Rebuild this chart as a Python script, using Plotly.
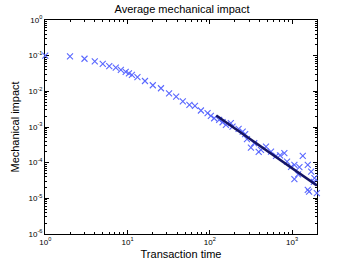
import plotly.graph_objects as go

# Measured average mechanical impact
transaction_time = [1, 2, 3, 4, 5, 6, 7.2, 8.3, 9.5, 10.4, 11.3, 13.2, 16.3, 20.3, 25.5, 32,
                    39, 47, 56.5, 66, 78, 94, 103, 113, 130, 143, 157, 180, 189, 224, 251, 269,
                    283, 316, 347, 393, 419, 482, 555, 639, 714, 806, 869, 972, 1067, 1067,
                    1183, 1228, 1349, 1552, 1552, 1611, 1706, 1840, 1871, 2000]
mech_impact = [0.1, 0.096, 0.082, 0.069, 0.059, 0.051, 0.046, 0.040, 0.035, 0.032, 0.029,
               0.025, 0.0195, 0.0148, 0.0122, 0.0088, 0.0071, 0.0052, 0.0042, 0.0039, 0.0029,
               0.00244, 0.00205, 0.00176, 0.00158, 0.00136, 0.00115, 0.00128, 0.00103, 0.00088,
               0.00074, 0.00063, 0.00046, 0.000265, 0.00035, 0.0002, 0.00023, 0.00028, 0.000205,
               0.000155, 0.00016, 0.000185, 0.000107, 7.6e-5, 8.7e-5, 3.45e-5, 4.7e-5, 7.5e-5,
               0.000155, 8.7e-5, 1.73e-5, 1.55e-5, 5.6e-5, 2.9e-5, 3.7e-5, 1.4e-5]

# Power-law fit over the tail
fit_time = [120, 2000]
fit_impact = [0.0021, 2.3e-5]

x_ticks = [1, 10, 100, 1000]
x_ticktext = ["10<sup>0</sup>", "10<sup>1</sup>", "10<sup>2</sup>", "10<sup>3</sup>"]
y_ticks = [1e-6, 1e-5, 1e-4, 1e-3, 1e-2, 1e-1, 1]
y_ticktext = ["10<sup>-6</sup>", "10<sup>-5</sup>", "10<sup>-4</sup>", "10<sup>-3</sup>",
              "10<sup>-2</sup>", "10<sup>-1</sup>", "10<sup>0</sup>"]

x_minor = [m * 10 ** d for d in range(0, 4) for m in range(2, 10) if m * 10 ** d <= 2000]
y_minor = [m * 10.0 ** d for d in range(-6, 0) for m in range(2, 10)]

FONT = "Liberation Sans, Arial, sans-serif"
MARK = "#5a68ff"

fig = go.Figure()
fig.add_trace(go.Scatter(
    x=transaction_time, y=mech_impact, mode="markers", cliponaxis=False,
    marker=dict(symbol="x-thin", size=6, color=MARK, line=dict(color=MARK, width=1.1)),
    showlegend=False))
fig.add_trace(go.Scatter(
    x=fit_time, y=fit_impact, mode="lines",
    line=dict(color="#141466", width=2.6), showlegend=False))

axis_common = dict(
    type="log", showgrid=False, zeroline=False, showline=True, linecolor="black",
    linewidth=1, mirror="allticks", ticks="inside", ticklen=4, tickcolor="black",
    automargin=False, layer="below traces",
    tickfont=dict(family=FONT, size=8, color="black"),
)

fig.update_xaxes(
    **axis_common, range=[-0.003, 3.303], tickvals=x_ticks, ticktext=x_ticktext,
    minor=dict(tickvals=x_minor, ticks="inside", ticklen=2, tickcolor="black"),
    title=dict(text="Transaction time", standoff=4,
               font=dict(family=FONT, size=11, color="black")))
fig.update_yaxes(
    **axis_common, range=[-6, 0], tickvals=y_ticks, ticktext=y_ticktext,
    minor=dict(tickvals=y_minor, ticks="inside", ticklen=2, tickcolor="black"),
    title=dict(text="Mechanical impact", standoff=6,
               font=dict(family=FONT, size=11, color="black")))

fig.update_layout(
    width=350, height=264,
    margin=dict(l=45, r=33, t=20, b=30),
    paper_bgcolor="white", plot_bgcolor="white",
    title=dict(text="Average mechanical impact", x=0.52, xanchor="center", y=0.965, yanchor="middle",
               font=dict(family=FONT, size=11, color="black")),
)

fig.write_html("out.html", config={"displayModeBar": False},
               post_script="document.body.style.margin='0';")
